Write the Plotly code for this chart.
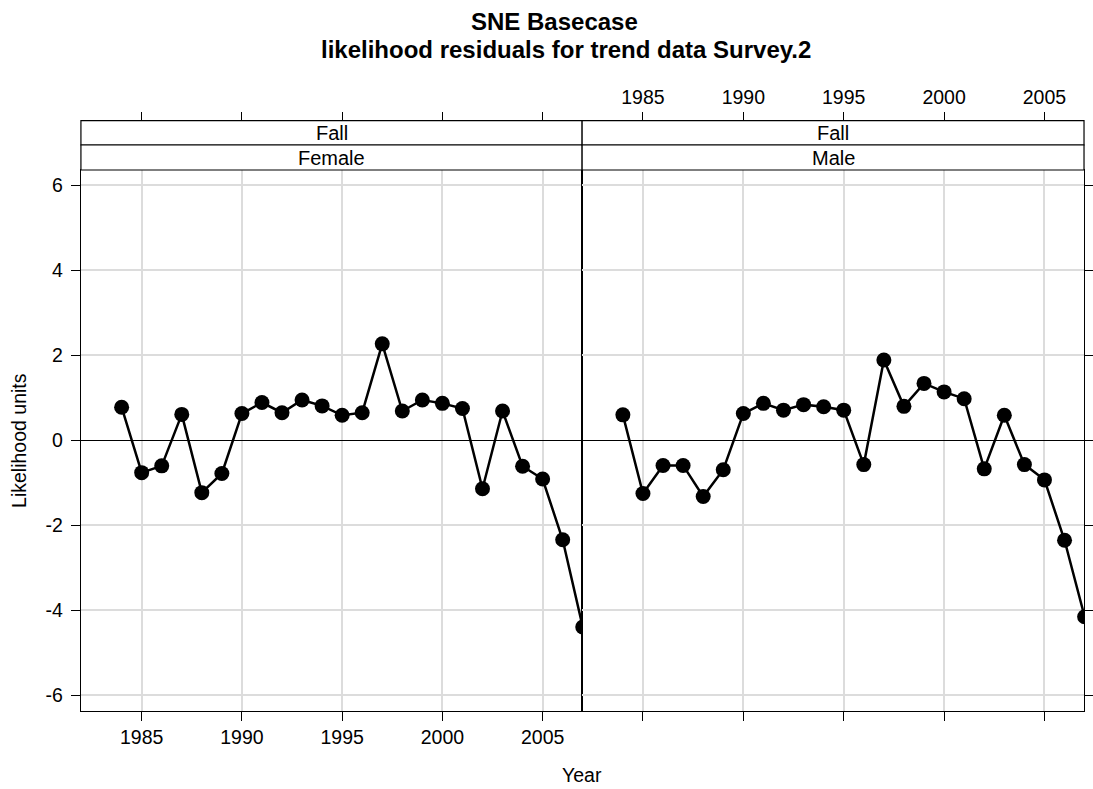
import plotly.graph_objects as go

# ---- data ----
years = list(range(1984, 2008))
female_resid = [0.78, -0.76, -0.60, 0.61, -1.23, -0.78, 0.63, 0.89, 0.65, 0.95,
                0.81, 0.59, 0.65, 2.27, 0.69, 0.95, 0.87, 0.75, -1.14, 0.69,
                -0.61, -0.91, -2.34, -4.39]
male_resid = [0.60, -1.25, -0.59, -0.59, -1.32, -0.69, 0.63, 0.87, 0.71, 0.84,
              0.79, 0.71, -0.57, 1.89, 0.80, 1.34, 1.14, 0.98, -0.67, 0.59,
              -0.57, -0.93, -2.35, -4.15]
panel_names = ["Female", "Male"]
season = "Fall"
year_ticks = [1985, 1990, 1995, 2000, 2005]
resid_ticks = [-6, -4, -2, 0, 2, 4, 6]

W, H = 1093, 789
FONT = "Liberation Sans, Arial, sans-serif"
GRID = "#dcdcdc"


def px_x(p):
    return p / W


def px_y(p):
    return 1 - p / H


left_x = 81.3
mid_x = 584.8
right_x = 1089.0
plot_top = 170.0
plot_bot = 710.7
strip_mid = 145.0
strip_top = 120.7

x_range = [1981.97, 2006.97]
y_range = [-6.36, 6.36]

fig = go.Figure()

for i, vals in enumerate([female_resid, male_resid]):
    xa = "x" if i == 0 else "x2"
    ya = "y" if i == 0 else "y2"
    fig.add_trace(
        go.Scatter(
            x=years,
            y=vals,
            mode="lines+markers",
            line=dict(color="black", width=2.5),
            marker=dict(color="black", size=15),
            xaxis=xa,
            yaxis=ya,
            showlegend=False,
            hoverinfo="x+y",
        )
    )

# invisible traces so the top tick axes get drawn
for xa, ya in [("x3", "y"), ("x4", "y2")]:
    fig.add_trace(
        go.Scatter(x=[years[0]], y=[0], mode="markers", marker=dict(opacity=0),
                   xaxis=xa, yaxis=ya, showlegend=False, hoverinfo="skip")
    )

TICKFONT = dict(family=FONT, size=19.5, color="black")

common_x = dict(
    range=x_range,
    tickvals=year_ticks,
    ticks="outside",
    ticklen=9,
    tickwidth=1.2,
    tickcolor="black",
    showline=True,
    linecolor="black",
    linewidth=1.2,
    mirror=True,
    showgrid=True,
    gridcolor=GRID,
    gridwidth=1.5,
    zeroline=False,
    tickfont=TICKFONT,
)
common_y = dict(
    range=y_range,
    tickvals=resid_ticks,
    ticktext=[str(v) for v in resid_ticks],
    ticks="outside",
    ticklen=9,
    tickwidth=1.2,
    tickcolor="black",
    ticklabelstandoff=4,
    showline=True,
    linecolor="black",
    linewidth=1.2,
    mirror=True,
    showgrid=True,
    gridcolor=GRID,
    gridwidth=1.5,
    zeroline=True,
    zerolinecolor="black",
    zerolinewidth=1.2,
    tickfont=TICKFONT,
    domain=[px_y(plot_bot), px_y(plot_top)],
)

top_tick = dict(
    range=x_range,
    tickvals=year_ticks,
    ticks="outside",
    ticklen=9,
    tickwidth=1.2,
    tickcolor="black",
    showline=False,
    showgrid=False,
    zeroline=False,
    side="top",
    anchor="free",
    position=px_y(strip_top),
    tickfont=TICKFONT,
)

fig.update_layout(
    width=W,
    height=H,
    margin=dict(l=0, r=0, t=0, b=0),
    paper_bgcolor="white",
    plot_bgcolor="white",
    xaxis=dict(common_x, domain=[px_x(left_x), px_x(mid_x)], anchor="y"),
    xaxis2=dict(common_x, domain=[px_x(mid_x), px_x(right_x)], anchor="y2",
                showticklabels=False),
    xaxis3=dict(top_tick, overlaying="x", domain=[px_x(left_x), px_x(mid_x)],
                showticklabels=False),
    xaxis4=dict(top_tick, overlaying="x2", domain=[px_x(mid_x), px_x(right_x)],
                showticklabels=True),
    yaxis=dict(common_y, anchor="x", side="left"),
    yaxis2=dict(common_y, anchor="x2", side="right", showticklabels=False),
)

# strips
shapes = []
annotations = []
for x0, x1, name in [(left_x, mid_x, panel_names[0]), (mid_x, right_x, panel_names[1])]:
    for y0, y1, label in [(strip_top, strip_mid, season), (strip_mid, plot_top, name)]:
        shapes.append(dict(type="rect", xref="paper", yref="paper",
                           x0=px_x(x0), x1=px_x(x1), y0=px_y(y1), y1=px_y(y0),
                           line=dict(color="black", width=1.2), fillcolor="white",
                           layer="above"))
        annotations.append(dict(xref="paper", yref="paper",
                                x=px_x((x0 + x1) / 2), y=px_y((y0 + y1) / 2),
                                text=label, showarrow=False,
                                font=dict(family=FONT, size=20, color="black"),
                                xanchor="center", yanchor="middle"))

annotations += [
    dict(xref="paper", yref="paper", x=px_x(557), y=px_y(21),
         text="<b>SNE Basecase</b>", showarrow=False,
         font=dict(family=FONT, size=24, color="black"),
         xanchor="center", yanchor="middle"),
    dict(xref="paper", yref="paper", x=px_x(569), y=px_y(50),
         text="<b>likelihood residuals for trend data Survey.2</b>", showarrow=False,
         font=dict(family=FONT, size=24, color="black"),
         xanchor="center", yanchor="middle"),
    dict(xref="paper", yref="paper", x=px_x(585), y=px_y(775),
         text="Year", showarrow=False,
         font=dict(family=FONT, size=19.5, color="black"),
         xanchor="center", yanchor="middle"),
    dict(xref="paper", yref="paper", x=px_x(19), y=px_y(440),
         text="Likelihood units", showarrow=False, textangle=-90,
         font=dict(family=FONT, size=19.5, color="black"),
         xanchor="center", yanchor="middle"),
]

fig.update_layout(shapes=shapes, annotations=annotations)

fig.write_html("out.html", config={"displayModeBar": False},
               post_script="document.body.style.margin='0';")
